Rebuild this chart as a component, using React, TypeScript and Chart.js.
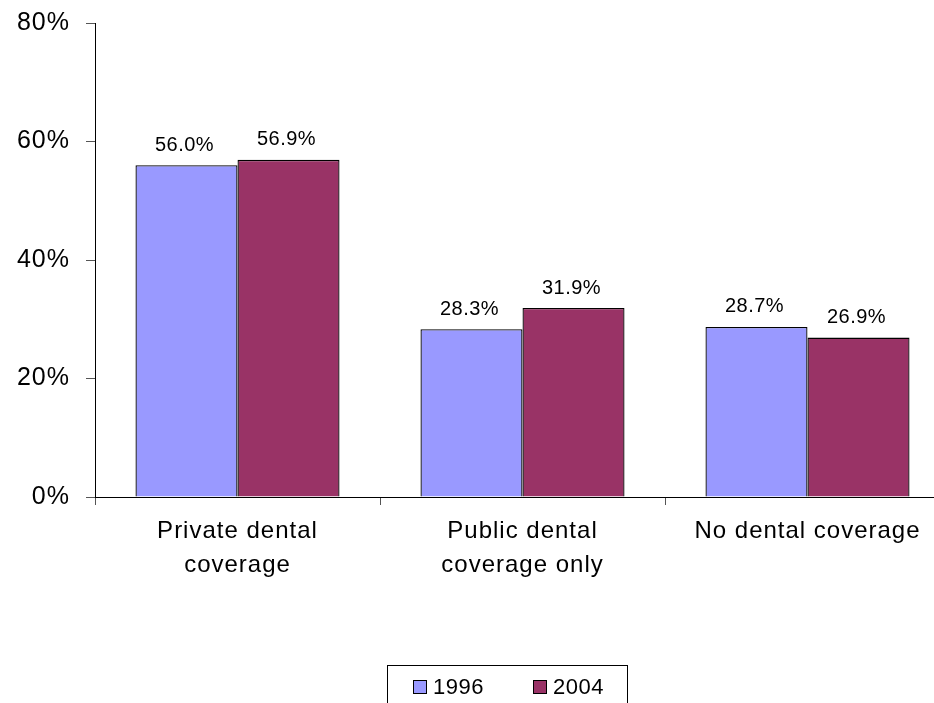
import React, { useEffect, useRef } from "react";
import { Chart, registerables } from "chart.js";

Chart.register(...registerables);

const categories: string[][] = [
  ["Private dental", "coverage"],
  ["Public dental", "coverage only"],
  ["No dental coverage"],
];
const seriesNames = ["1996", "2004"];
const values1996 = [56.0, 28.3, 28.7];
const values2004 = [56.9, 31.9, 26.9];
const seriesColors = ["#9999FF", "#993366"];
const yTicks = [0, 20, 40, 60, 80];

const FONT = "'Liberation Sans', Arial, sans-serif";

const spacingPlugin = {
  id: "spacing",
  beforeLayout(chart: any) {
    chart.ctx.letterSpacing = "1px";
  },
  beforeDraw(chart: any) {
    chart.ctx.letterSpacing = "1px";
  },
};

const valueLabelPlugin = {
  id: "valueLabels",
  afterDatasetsDraw(chart: any) {
    const ctx = chart.ctx;
    ctx.save();
    ctx.letterSpacing = "0.5px";
    ctx.font = `20px ${FONT}`;
    ctx.fillStyle = "#000";
    ctx.textAlign = "center";
    ctx.textBaseline = "bottom";
    chart.data.datasets.forEach((ds: any, i: number) => {
      const meta = chart.getDatasetMeta(i);
      meta.data.forEach((bar: any, j: number) => {
        const v = ds.data[j] as number;
        ctx.fillText(v.toFixed(1) + "%", bar.x - 2, bar.y - 10);
      });
    });
    ctx.restore();
  },
};

const legendBoxPlugin = {
  id: "legendBox",
  afterDraw(chart: any) {
    const ctx = chart.ctx;
    ctx.save();
    ctx.strokeStyle = "#000";
    ctx.lineWidth = 1;
    ctx.strokeRect(387.5, 665.5, 240, 60);
    ctx.font = `22px ${FONT}`;
    ctx.letterSpacing = "0.5px";
    ctx.textBaseline = "middle";
    ctx.textAlign = "left";
    const xs = [413, 533];
    chart.data.datasets.forEach((ds: any, i: number) => {
      const x = xs[i];
      ctx.fillStyle = ds.backgroundColor;
      ctx.fillRect(x, 680, 14, 14);
      ctx.strokeStyle = "#000";
      ctx.strokeRect(x + 0.5, 680.5, 13, 13);
      ctx.fillStyle = "#000";
      ctx.fillText(ds.label, x + 20, 688);
    });
    ctx.restore();
  },
};

export default function App() {
  const ref = useRef<HTMLCanvasElement | null>(null);
  useEffect(() => {
    if (!ref.current) return;
    const chart = new Chart(ref.current, {
      type: "bar",
      data: {
        labels: categories as any,
        datasets: [
          {
            label: seriesNames[0],
            data: values1996,
            backgroundColor: seriesColors[0],
            borderColor: "#000",
            borderWidth: 1.3,
            categoryPercentage: 0.716,
            barPercentage: 1,
          },
          {
            label: seriesNames[1],
            data: values2004,
            backgroundColor: seriesColors[1],
            borderColor: "#000",
            borderWidth: 1.3,
            categoryPercentage: 0.716,
            barPercentage: 1,
          },
        ],
      },
      options: {
        responsive: false,
        animation: false,
        devicePixelRatio: 1,
        layout: { padding: { top: 23, right: 10, left: 0, bottom: 0 } },
        plugins: { legend: { display: false }, tooltip: { enabled: false } },
        scales: {
          x: {
            grid: {
              offset: true,
              drawOnChartArea: false,
              drawTicks: true,
              tickLength: 8,
              color: "#555",
            },
            border: { display: true, color: "#000", width: 1 },
            ticks: {
              color: "#000",
              font: { family: FONT, size: 24, lineHeight: 1.4 },
              padding: 10,
              maxRotation: 0,
              autoSkip: false,
            },
            afterFit(scale: any) {
              scale.height = 206;
              scale.paddingLeft = 0;
              scale.paddingRight = 0;
            },
          },
          y: {
            min: 0,
            max: 80,
            grid: {
              drawOnChartArea: false,
              drawTicks: true,
              tickLength: 9,
              color: "#555",
            },
            border: { display: true, color: "#000", width: 1 },
            afterBuildTicks(scale: any) {
              scale.ticks = yTicks.map((v) => ({ value: v }));
            },
            ticks: {
              color: "#000",
              font: { family: FONT, size: 25 },
              padding: 16,
              callback: (v: any) => v + "%",
            },
            afterFit(scale: any) {
              scale.width = 95;
              scale.paddingTop = 0;
              scale.paddingBottom = 0;
            },
          },
        },
      },
      plugins: [spacingPlugin, valueLabelPlugin, legendBoxPlugin],
    });
    return () => chart.destroy();
  }, []);
  return (
    <div
      style={{
        position: "absolute",
        left: 0,
        top: 0,
        width: 934,
        height: 703,
        overflow: "hidden",
        background: "#fff",
      }}
    >
      <canvas ref={ref} width={960} height={703} style={{ width: 960, height: 703, display: "block" }} />
    </div>
  );
}
